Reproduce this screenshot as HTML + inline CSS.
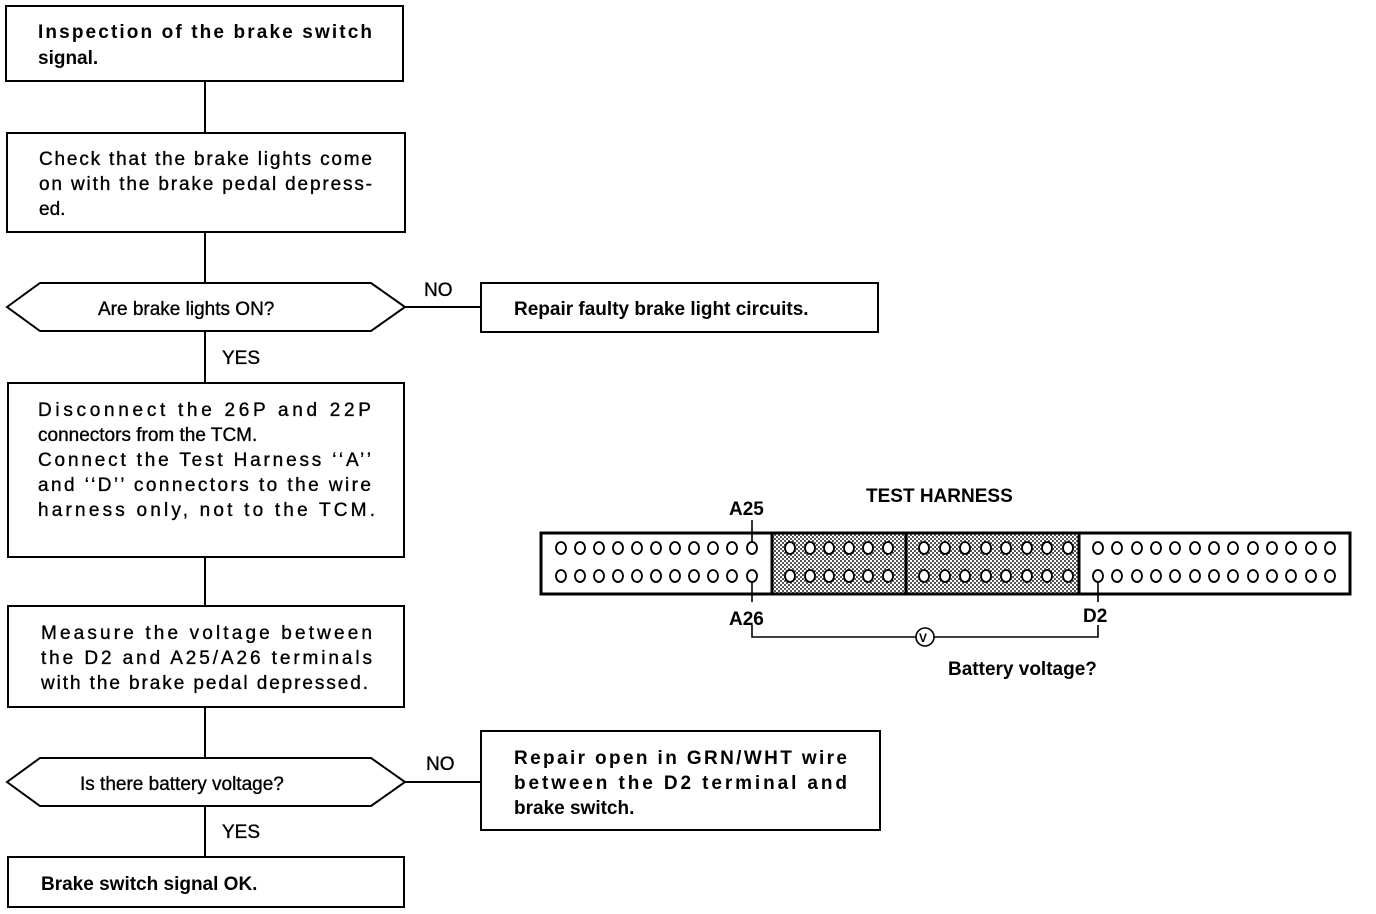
<!DOCTYPE html>
<html><head><meta charset="utf-8"><style>
html,body{margin:0;padding:0;background:#fff}
svg{display:block}
text{font-family:"Liberation Sans",Arial,sans-serif;fill:#000}
.r{font-size:19px;stroke:#000;stroke-width:0.35}
.b{font-size:19px;font-weight:bold}
</style></head><body>
<svg width="1376" height="914" viewBox="0 0 1376 914" xmlns="http://www.w3.org/2000/svg">
<defs>
<pattern id="h" width="4" height="4" patternUnits="userSpaceOnUse">
<rect width="4" height="4" fill="#fff"/>
<rect x="0" y="0" width="2" height="2" fill="#555"/>
<rect x="2" y="2" width="2" height="2" fill="#555"/>
</pattern>
</defs>
<g fill="none" stroke="#000" stroke-width="2">
<rect x="6" y="6" width="397" height="75"/>
<line x1="205" y1="81" x2="205" y2="133"/>
<rect x="7" y="133" width="398" height="99"/>
<line x1="205" y1="232" x2="205" y2="282"/>
<polygon points="7,307 40,283 371,283 405,307 371,331 40,331"/>
<line x1="405" y1="307" x2="481" y2="307"/>
<rect x="481" y="283" width="397" height="49"/>
<line x1="205" y1="331" x2="205" y2="383"/>
<rect x="8" y="383" width="396" height="174"/>
<line x1="205" y1="557" x2="205" y2="606"/>
<rect x="8" y="606" width="396" height="101"/>
<line x1="205" y1="707" x2="205" y2="757"/>
<polygon points="7,782 40,758 371,758 405,782 371,806 40,806"/>
<line x1="405" y1="782" x2="481" y2="782"/>
<rect x="481" y="731" width="399" height="99"/>
<line x1="205" y1="806" x2="205" y2="857"/>
<rect x="8" y="857" width="396" height="50"/>
</g>
<text class="b" x="38" y="38" textLength="334" lengthAdjust="spacing">Inspection of the brake switch</text>
<text class="b" x="38" y="64">signal.</text>
<text class="r" x="39" y="165" textLength="333" lengthAdjust="spacing">Check that the brake lights come</text>
<text class="r" x="39" y="190" textLength="333" lengthAdjust="spacing">on with the brake pedal depress-</text>
<text class="r" x="39" y="215">ed.</text>
<text class="r" x="98" y="315">Are brake lights ON?</text>
<text class="r" x="424" y="296">NO</text>
<text class="b" x="514" y="315">Repair faulty brake light circuits.</text>
<text class="r" x="222" y="364">YES</text>
<text class="r" x="38" y="416" textLength="333" lengthAdjust="spacing">Disconnect the 26P and 22P</text>
<text class="r" x="38" y="441">connectors from the TCM.</text>
<text class="r" x="38" y="466" textLength="333" lengthAdjust="spacing">Connect the Test Harness ‘‘A’’</text>
<text class="r" x="38" y="491" textLength="333" lengthAdjust="spacing">and ‘‘D’’ connectors to the wire</text>
<text class="r" x="38" y="516" textLength="337" lengthAdjust="spacing">harness only, not to the TCM.</text>
<text class="r" x="41" y="639" textLength="331" lengthAdjust="spacing">Measure the voltage between</text>
<text class="r" x="41" y="664" textLength="331" lengthAdjust="spacing">the D2 and A25/A26 terminals</text>
<text class="r" x="41" y="689" textLength="327" lengthAdjust="spacing">with the brake pedal depressed.</text>
<text class="r" x="80" y="790">Is there battery voltage?</text>
<text class="r" x="426" y="770">NO</text>
<text class="b" x="514" y="764" textLength="333" lengthAdjust="spacing">Repair open in GRN/WHT wire</text>
<text class="b" x="514" y="789" textLength="333" lengthAdjust="spacing">between the D2 terminal and</text>
<text class="b" x="514" y="814">brake switch.</text>
<text class="r" x="222" y="838">YES</text>
<text class="b" x="41" y="890">Brake switch signal OK.</text>

<text class="b" x="866" y="502">TEST HARNESS</text>
<text class="b" x="729" y="515">A25</text>
<text class="b" x="729" y="625">A26</text>
<text class="b" x="1083" y="622">D2</text>
<text class="b" x="948" y="675">Battery voltage?</text>
<rect x="772" y="533" width="134" height="61" fill="url(#h)"/>
<rect x="906" y="533" width="173" height="61" fill="url(#h)"/>
<g fill="none" stroke="#000" stroke-width="3">
<rect x="541" y="533" width="809" height="61"/>
<line x1="772" y1="533" x2="772" y2="594"/>
<line x1="906" y1="533" x2="906" y2="594"/>
<line x1="1079" y1="533" x2="1079" y2="594"/>
</g>
<g fill="none" stroke="#000" stroke-width="1.6">
<line x1="752" y1="520" x2="752" y2="542"/>
<line x1="752" y1="582" x2="752" y2="602"/>
<line x1="1098" y1="582" x2="1098" y2="602"/>
<polyline points="752,625 752,637 916,637"/>
<polyline points="934,637 1098,637 1098,625"/>
<circle cx="925" cy="637" r="9"/>
</g>
<text x="919" y="642" style="font-size:12px;font-weight:bold">V</text>
<g fill="#fff" stroke="#000" stroke-width="1.8">
<g id="row">
<ellipse cx="561" cy="548" rx="5" ry="6"/><ellipse cx="580" cy="548" rx="5" ry="6"/><ellipse cx="599" cy="548" rx="5" ry="6"/><ellipse cx="618" cy="548" rx="5" ry="6"/><ellipse cx="637" cy="548" rx="5" ry="6"/><ellipse cx="656" cy="548" rx="5" ry="6"/><ellipse cx="675" cy="548" rx="5" ry="6"/><ellipse cx="694" cy="548" rx="5" ry="6"/><ellipse cx="713" cy="548" rx="5" ry="6"/><ellipse cx="732" cy="548" rx="5" ry="6"/><ellipse cx="752" cy="548" rx="5" ry="6"/>
<ellipse cx="790" cy="548" rx="5" ry="6"/><ellipse cx="810" cy="548" rx="5" ry="6"/><ellipse cx="829" cy="548" rx="5" ry="6"/><ellipse cx="849" cy="548" rx="5" ry="6"/><ellipse cx="868" cy="548" rx="5" ry="6"/><ellipse cx="888" cy="548" rx="5" ry="6"/>
<ellipse cx="924" cy="548" rx="5" ry="6"/><ellipse cx="945" cy="548" rx="5" ry="6"/><ellipse cx="965" cy="548" rx="5" ry="6"/><ellipse cx="986" cy="548" rx="5" ry="6"/><ellipse cx="1006" cy="548" rx="5" ry="6"/><ellipse cx="1027" cy="548" rx="5" ry="6"/><ellipse cx="1047" cy="548" rx="5" ry="6"/><ellipse cx="1068" cy="548" rx="5" ry="6"/>
<ellipse cx="1098" cy="548" rx="5" ry="6"/><ellipse cx="1117" cy="548" rx="5" ry="6"/><ellipse cx="1137" cy="548" rx="5" ry="6"/><ellipse cx="1156" cy="548" rx="5" ry="6"/><ellipse cx="1175" cy="548" rx="5" ry="6"/><ellipse cx="1195" cy="548" rx="5" ry="6"/><ellipse cx="1214" cy="548" rx="5" ry="6"/><ellipse cx="1233" cy="548" rx="5" ry="6"/><ellipse cx="1253" cy="548" rx="5" ry="6"/><ellipse cx="1272" cy="548" rx="5" ry="6"/><ellipse cx="1291" cy="548" rx="5" ry="6"/><ellipse cx="1311" cy="548" rx="5" ry="6"/><ellipse cx="1330" cy="548" rx="5" ry="6"/>
</g>
<use href="#row" y="28"/>
</g>
</svg>
</body></html>
